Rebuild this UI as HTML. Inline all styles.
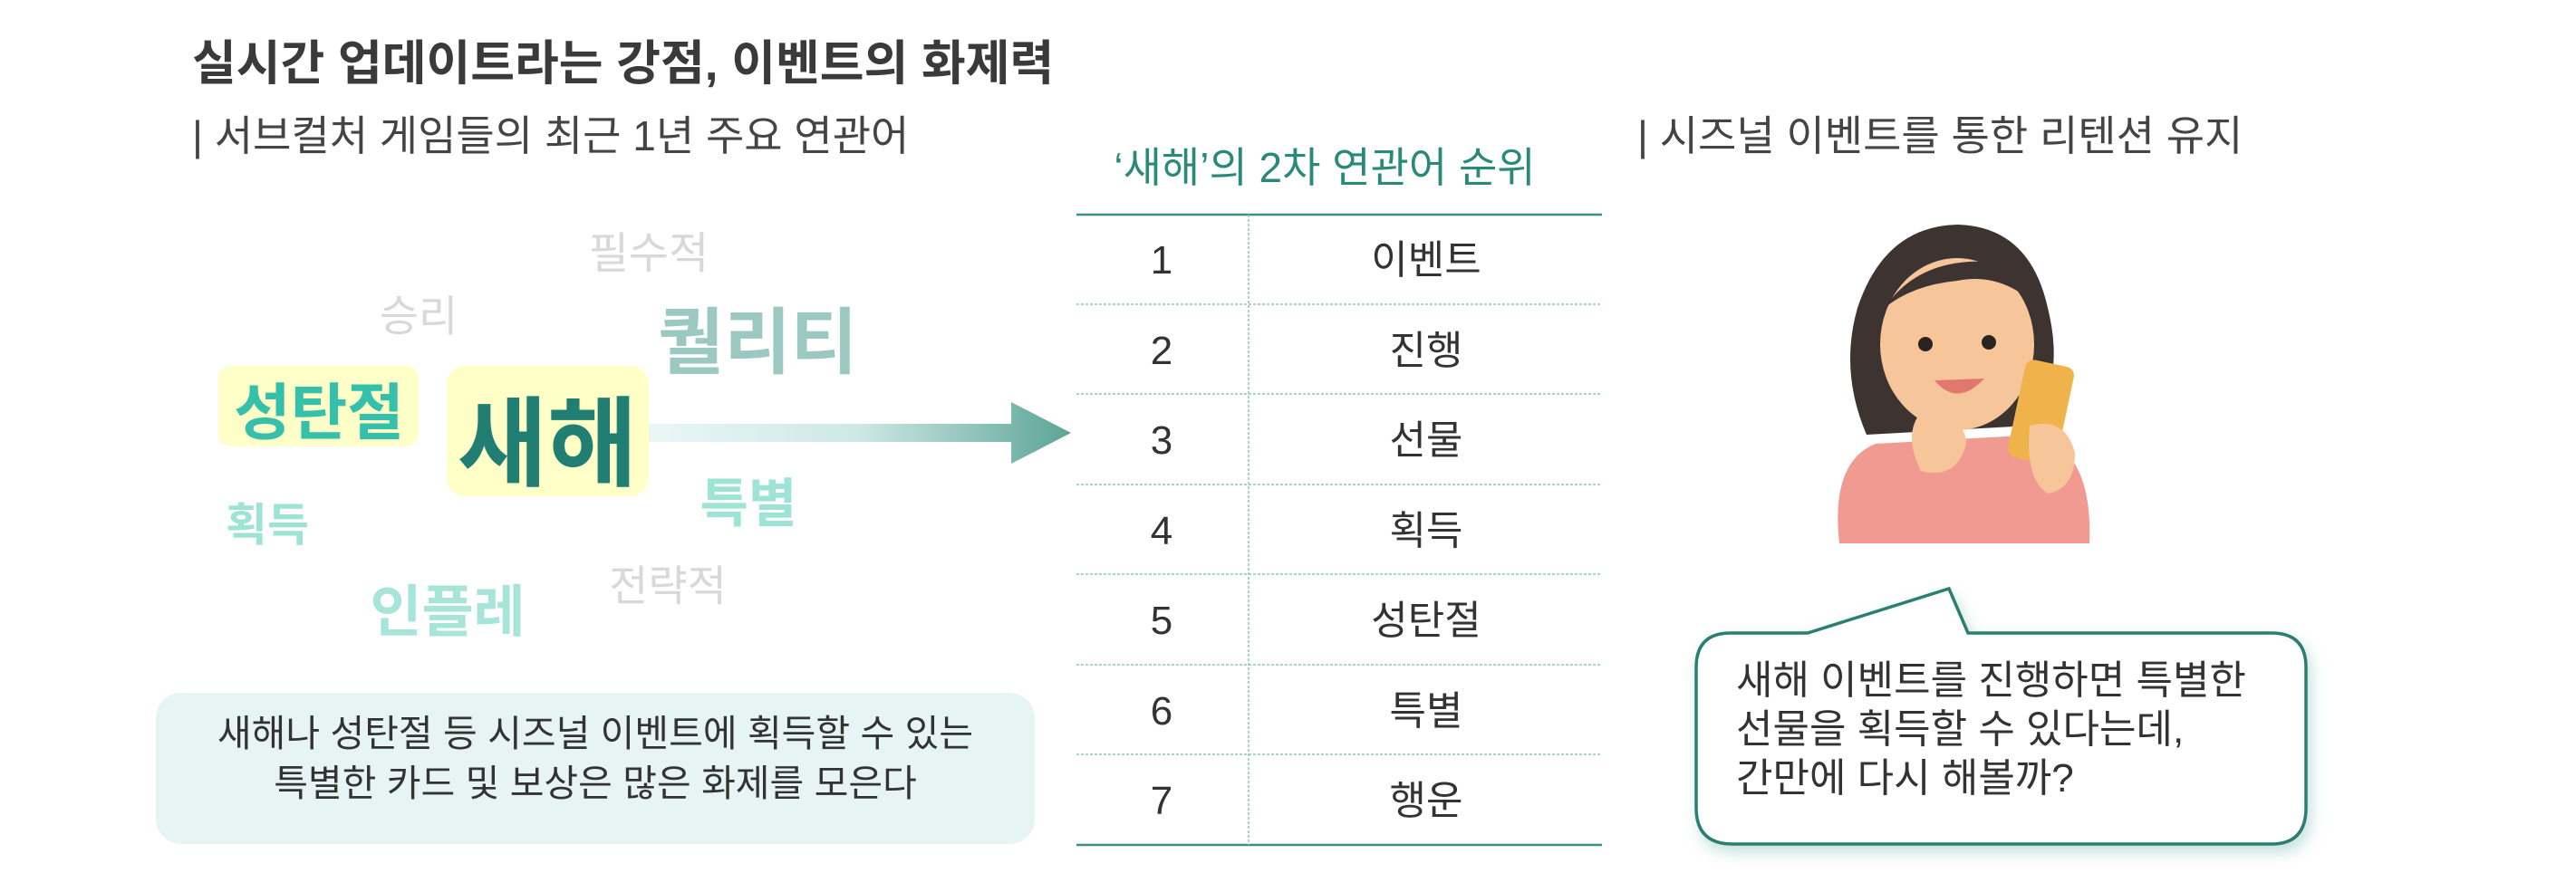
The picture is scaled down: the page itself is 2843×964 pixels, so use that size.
<!DOCTYPE html>
<html><head><meta charset="utf-8"><style>
body{margin:0;width:2843px;height:964px;background:#fff;position:relative;overflow:hidden;font-family:"Liberation Sans","Noto Sans CJK KR",sans-serif;}
.a{position:absolute;white-space:nowrap;}
.c{transform:translate(-50%,-50%);}
.b{font-weight:bold;}
</style></head><body>
<div class="a b" style="left:212px;top:28px;font-size:53px;color:#3a3a3a;">실시간 업데이트라는 강점, 이벤트의 화제력</div>
<div class="a" style="left:212px;top:114px;font-size:46px;color:#444;">| 서브컬처 게임들의 최근 1년 주요 연관어</div>

<div class="a c" style="left:716px;top:275px;font-size:48px;color:#d8d8d8;">필수적</div>
<div class="a c" style="left:462px;top:345px;font-size:47px;color:#d8d8d8;">승리</div>
<div class="a c b" style="left:836px;top:372px;font-size:80px;color:#9cc8c2;">퀄리티</div>
<div class="a" style="left:241px;top:404px;width:221px;height:89px;background:#ffffc8;border-radius:14px;"></div>
<div class="a c b" style="left:352px;top:450px;font-size:68px;color:#35c0ab;">성탄절</div>
<div class="a" style="left:493px;top:404px;width:223px;height:144px;background:#ffffc8;border-radius:20px;"></div>
<div class="a c b" style="left:604px;top:482px;font-size:108px;color:#207f72;">새해</div>
<svg class="a" style="left:716px;top:440px" width="470" height="80">
<defs><linearGradient id="g" x1="0" x2="1"><stop offset="0" stop-color="#eaf7f5"/><stop offset="0.5" stop-color="#cde8e3"/><stop offset="1" stop-color="#5ca497"/></linearGradient></defs>
<path d="M0 28 H400 V4 L466 38 L400 72 V48 H0 Z" fill="url(#g)"/></svg>
<div class="a c b" style="left:826px;top:551px;font-size:58px;color:#9de3d6;">특별</div>
<div class="a c b" style="left:295px;top:576px;font-size:50px;color:#9de3d6;">획득</div>
<div class="a c b" style="left:494px;top:670px;font-size:62px;color:#a7e4da;">인플레</div>
<div class="a c" style="left:737px;top:643px;font-size:47px;color:#d8d8d8;">전략적</div>

<div class="a" style="left:172px;top:765px;width:970px;height:167px;background:#e6f5f3;border-radius:28px;"></div>
<div class="a" style="left:172px;top:783px;width:970px;text-align:center;font-size:41px;line-height:55px;color:#333;">새해나 성탄절 등 시즈널 이벤트에 획득할 수 있는<br>특별한 카드 및 보상은 많은 화제를 모은다</div>

<div class="a c" style="left:1462px;top:182px;font-size:46px;color:#2a8a7a;">‘새해’의 2차 연관어 순위</div>
<svg class="a" style="left:1188px;top:235px" width="582" height="702">
<line x1="0" y1="2" x2="580" y2="2" stroke="#3a8f84" stroke-width="2.5"/>
<line x1="0" y1="698" x2="580" y2="698" stroke="#3a8f84" stroke-width="2.5"/>
<g stroke="#8fc6be" stroke-width="1.5" stroke-dasharray="3 2">
<line x1="0" y1="101" x2="580" y2="101"/><line x1="0" y1="200" x2="580" y2="200"/><line x1="0" y1="300" x2="580" y2="300"/><line x1="0" y1="399" x2="580" y2="399"/><line x1="0" y1="499" x2="580" y2="499"/><line x1="0" y1="598" x2="580" y2="598"/>
<line x1="190" y1="2" x2="190" y2="698"/></g>
<g font-size="44" fill="#333" text-anchor="middle" font-family="Liberation Sans, Noto Sans CJK KR, sans-serif">
<text x="94" y="67">1</text><text x="386" y="67">이벤트</text>
<text x="94" y="167">2</text><text x="386" y="167">진행</text>
<text x="94" y="266">3</text><text x="386" y="266">선물</text>
<text x="94" y="366">4</text><text x="386" y="366">획득</text>
<text x="94" y="465">5</text><text x="386" y="465">성탄절</text>
<text x="94" y="565">6</text><text x="386" y="565">특별</text>
<text x="94" y="664">7</text><text x="386" y="664">행운</text>
</g></svg>

<div class="a" style="left:1807px;top:114px;font-size:46px;color:#444;">| 시즈널 이벤트를 통한 리텐션 유지</div>

<svg class="a" style="left:2010px;top:230px" width="310" height="390">
<path d="M20 370 Q10 280 60 260 L240 250 Q300 270 296 370 Z" fill="#f09a92"/>
<path d="M50 250 Q20 180 40 110 Q70 20 150 18 Q230 20 250 110 Q270 190 230 240 Z" fill="#3d3330"/>
<ellipse cx="150" cy="150" rx="85" ry="95" fill="#f7c59a"/>
<path d="M70 110 Q110 50 200 60 Q230 70 240 110 Q200 70 150 80 Q100 85 70 110Z" fill="#3d3330"/>
<circle cx="115" cy="150" r="8" fill="#2a2320"/><circle cx="185" cy="148" r="8" fill="#2a2320"/>
<path d="M125 190 Q150 220 180 188 Z" fill="#e07870"/>
<path d="M110 225 Q90 250 110 290 Q150 300 160 260 Q160 235 130 235 Z" fill="#f7c59a"/>
<rect x="215" y="170" width="55" height="110" rx="10" fill="#f0b24a" transform="rotate(12 242 225)"/>
<path d="M230 240 Q270 230 280 270 Q280 310 250 315 Q225 300 230 240Z" fill="#f7c59a"/>
</svg>

<svg class="a" style="left:1860px;top:630px" width="720" height="334">
<defs><filter id="s"><feDropShadow dx="4" dy="8" stdDeviation="8" flood-color="#5aa89b" flood-opacity="0.35"/></filter></defs>
<path d="M50 69 H135 L291 20 L312 69 H647 Q685 69 685 107 V262 Q685 302 647 302 H52 Q12 302 12 262 V107 Q12 69 50 69 Z" fill="#fff" stroke="#2a7f72" stroke-width="3.5" filter="url(#s)"/>
<g font-size="44" fill="#333" font-family="Liberation Sans, Noto Sans CJK KR, sans-serif">
<text x="56" y="136">새해 이벤트를 진행하면 특별한</text>
<text x="56" y="190">선물을 획득할 수 있다는데,</text>
<text x="56" y="244">간만에 다시 해볼까?</text></g>
</svg>
</body></html>
